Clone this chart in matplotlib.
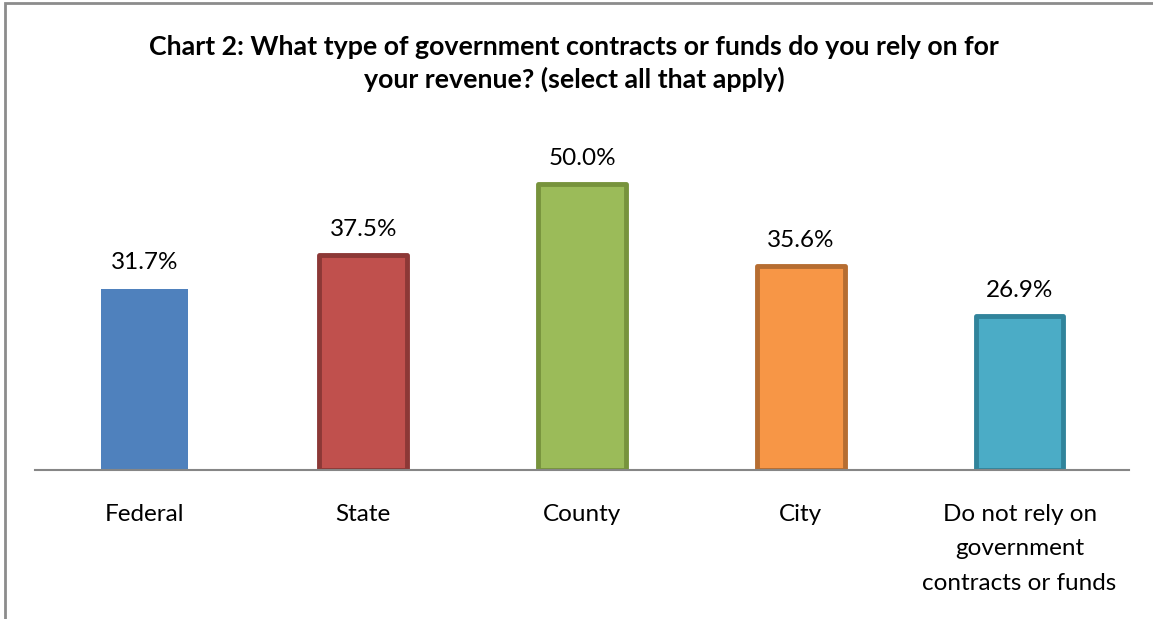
import matplotlib
matplotlib.use("Agg")
import matplotlib.pyplot as plt
from matplotlib.patches import Rectangle

categories = ["Federal", "State", "County", "City",
              "Do not rely on\ngovernment\ncontracts or funds"]
values = [31.7, 37.5, 50.0, 35.6, 26.9]
labels = ["31.7%", "37.5%", "50.0%", "35.6%", "26.9%"]
face_colors = ["#4F81BD", "#C0504D", "#9BBB59", "#F79646", "#4BACC6"]
edge_colors = ["#4F81BD", "#8C3836", "#77933C", "#B66D31", "#31849B"]
title = "Chart 2: What type of government contracts or funds do you rely on for\nyour revenue? (select all that apply)"

plt.rcParams['font.family'] = ['Lato', 'DejaVu Sans']

W, H = 1153, 619
fig = plt.figure(figsize=(W / 100, H / 100), dpi=100)
fig.patch.set_facecolor("white")

# figure border (left and top visible)
fig.add_artist(Rectangle((5 / W, -0.1), 1.2, (H - 3) / H + 0.1, transform=fig.transFigure,
                         fill=False, edgecolor="#8C8C8C", linewidth=2))

ax = fig.add_axes([35 / W, (H - 469.5) / H, (1129 - 35) / W, (469.5 - 127) / H])
x = list(range(len(categories)))
lws = [0, 3.5, 3.5, 3.5, 3.5]
ax.bar(x, values, width=0.40, color=face_colors, edgecolor=edge_colors,
       linewidth=lws, joinstyle="round", zorder=2)
ax.set_xlim(-0.5, len(categories) - 0.5)
ax.set_ylim(0, 60)
for xi, v, lab in zip(x, values, labels):
    ax.annotate(lab, (xi, v), xytext=(0, 11), textcoords="offset points",
                ha="center", va="bottom", fontsize=17.5, color="#000000")

for s in ["top", "right", "left"]:
    ax.spines[s].set_visible(False)
ax.spines["bottom"].set_color("#868686")
ax.spines["bottom"].set_linewidth(1.5)
ax.spines["bottom"].set_zorder(3)
ax.set_yticks([])
ax.set_xticks(x)
ax.set_xticklabels(categories, fontsize=17.5, linespacing=1.82, va="top")
ax.tick_params(axis="x", length=0, pad=24.5)

fig.text(574 / W, 1 - 63.5 / H, title, ha="center", va="center",
         fontsize=19.3, fontweight="bold", linespacing=1.32)

fig.savefig("out.png", dpi=100, facecolor="white")
